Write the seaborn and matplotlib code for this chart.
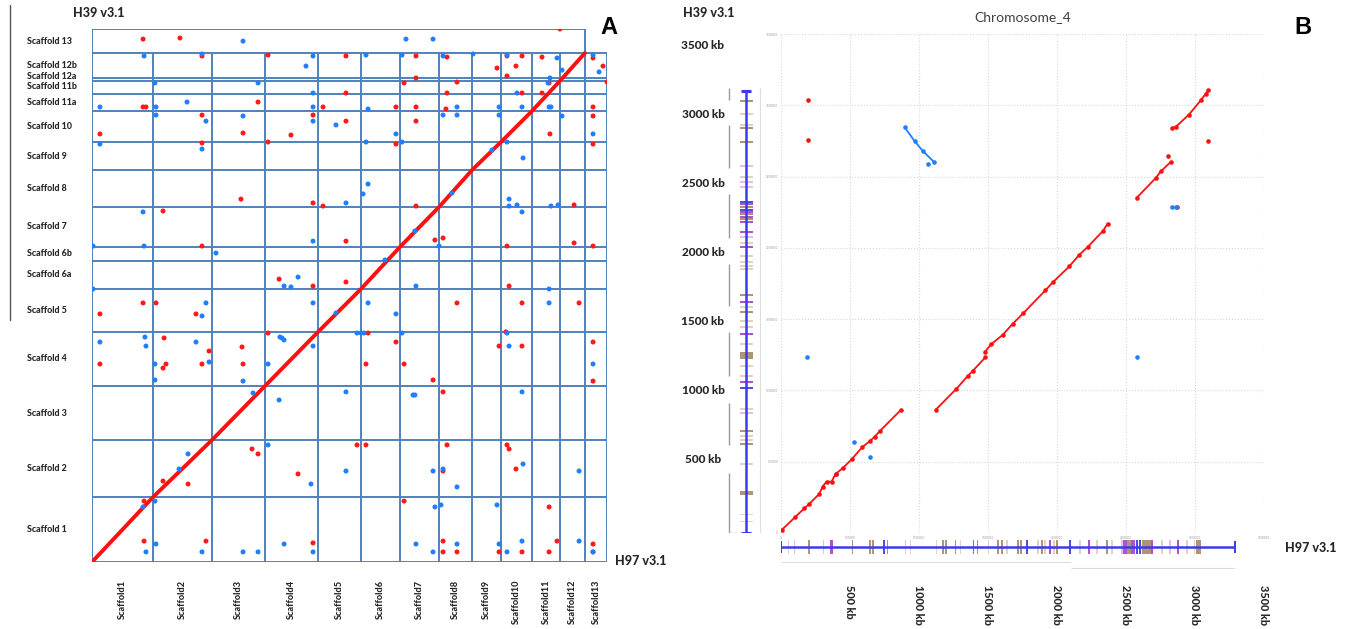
import numpy as np
import pandas as pd
import matplotlib
matplotlib.use('Agg')
import matplotlib.pyplot as plt
import matplotlib.transforms as mtransforms
import seaborn as sns

# PANEL A - whole genome dot plot, H97 v3.1 (x) vs H39 v3.1 (y), positions in Mb
h97_scaffolds = ['Scaffold1', 'Scaffold2', 'Scaffold3', 'Scaffold4', 'Scaffold5', 'Scaffold6', 'Scaffold7',
                 'Scaffold8', 'Scaffold9', 'Scaffold10', 'Scaffold11', 'Scaffold12', 'Scaffold13']
h97_len = [3.54, 3.42, 3.07, 3.08, 2.49, 2.26, 2.27, 1.91, 1.68, 1.80, 1.62, 1.45, 1.28]
h39_scaffolds = ['Scaffold 1', 'Scaffold 2', 'Scaffold 3', 'Scaffold 4', 'Scaffold 5', 'Scaffold 6a', 'Scaffold 6b',
                 'Scaffold 7', 'Scaffold 8', 'Scaffold 9', 'Scaffold 10', 'Scaffold 11a', 'Scaffold 11b',
                 'Scaffold 12a', 'Scaffold 12b', 'Scaffold 13']
h39_len = [3.54, 3.11, 2.94, 2.95, 2.34, 1.53, 0.76, 2.18, 2.01, 1.53, 1.69, 0.93, 0.71, 0.16, 1.36, 1.31]

# main collinear diagonal (scaffold break points)
diag_h97 = [0, 3.54, 6.96, 10.03, 13.11, 15.60, 17.86, 20.13, 22.04, 23.72, 25.52, 27.14, 28.59]
diag_h39 = [0, 3.54, 6.65, 9.59, 12.54, 14.88, 17.17, 19.35, 21.36, 22.89, 24.58, 26.22, 27.74]

# forward hits (red)
red_h97 = [2.96, 5.10, 6.38, 10.21, 2.96, 3.13, 9.63, 13.40, 6.38, 12.82, 0.46, 8.76, 11.54, 6.38, 10.21,
           8.64, 12.82, 13.40, 4.12, 6.38, 10.85, 12.82, 2.96, 3.71, 0.46, 6.03, 27.14, 14.73, 18.79, 20.59,
           24.07, 24.94, 26.10, 29.06, 29.64, 23.49, 24.59, 24.07, 26.51, 18.10, 21.17, 18.79, 29.87, 14.73,
           20.59, 24.94, 26.10, 17.63, 18.79, 20.53, 29.06, 29.06, 14.73, 18.79, 26.56, 17.63, 29.06, 18.79,
           27.96, 14.73, 19.89, 20.36, 27.96, 29.06, 24.07, 14.73, 24.19, 21.17, 24.94, 28.25, 4.18, 0.46,
           6.79, 6.38, 4.29, 4.12, 8.70, 8.76, 10.21, 3.02, 3.02, 6.61, 12.82, 9.28, 9.63, 11.95, 5.57, 4.12,
           16.01, 17.63, 24.01, 23.61, 24.94, 29.06, 15.89, 18.10, 19.78, 29.06, 20.36, 15.37, 15.89, 20.59,
           24.07, 24.19, 24.59, 20.36, 18.10, 26.51, 20.36, 26.97, 29.06, 20.36, 21.17, 23.61, 24.94, 26.51,
           29.06]
red_h39 = [28.50, 28.56, 27.58, 27.63, 24.80, 24.80, 25.07, 24.80, 24.36, 24.36, 23.33, 23.38, 23.27, 22.84,
           22.89, 19.78, 19.57, 19.40, 19.13, 17.22, 15.42, 15.04, 14.12, 14.12, 13.52, 13.52, 29.05, 27.58,
           27.58, 27.52, 27.58, 27.58, 27.52, 27.47, 27.03, 26.92, 27.03, 26.49, 26.11, 26.11, 26.16, 26.38,
           26.16, 25.56, 25.56, 25.56, 25.56, 24.80, 24.80, 24.69, 24.80, 24.31, 24.03, 24.03, 23.33, 22.78,
           22.78, 19.40, 19.46, 17.49, 17.55, 17.66, 17.39, 17.22, 17.22, 15.26, 15.04, 14.12, 14.12, 14.12,
           12.21, 10.79, 11.50, 10.79, 10.79, 10.57, 11.72, 10.79, 12.48, 3.32, 1.14, 1.14, 1.04, 6.16, 5.89,
           4.80, 4.25, 4.41, 12.48, 11.99, 12.54, 11.77, 11.77, 11.99, 10.79, 10.79, 9.92, 9.86, 9.27, 6.38,
           6.38, 6.38, 6.38, 6.16, 5.07, 4.96, 3.32, 3.00, 1.14, 1.14, 0.98, 0.55, 0.55, 0.55, 0.55, 0.55,
           0.55]
# reverse hits (blue)
blue_h97 = [8.76, 3.02, 6.38, 12.82, 12.41, 3.65, 9.63, 12.82, 0.46, 3.71, 5.51, 12.82, 3.71, 6.61, 8.76,
            12.82, 0.46, 6.38, 2.96, 12.82, 3.02, 0.06, 7.19, 11.95, 11.14, 11.54, 0.06, 6.61, 12.82, 6.38,
            18.21, 19.78, 15.89, 17.98, 20.36, 22.10, 24.07, 26.97, 29.06, 29.41, 27.26, 26.56, 26.45, 24.65,
            16.01, 21.17, 23.61, 24.94, 26.51, 26.62, 14.15, 20.36, 21.17, 23.61, 27.26, 17.63, 29.06, 15.89,
            17.98, 24.07, 25.00, 16.01, 15.72, 14.73, 24.19, 24.19, 24.65, 24.94, 26.62, 27.03, 20.13, 26.51,
            16.01, 17.63, 26.51, 18.79, 20.88, 18.73, 16.99, 23.20, 14.15, 3.07, 0.46, 3.13, 6.03, 6.79, 3.65,
            3.65, 8.76, 10.21, 10.90, 11.02, 11.14, 12.82, 10.85, 9.34, 10.21, 5.57, 5.05, 12.70, 3.65, 2.96,
            3.71, 3.13, 6.38, 8.76, 9.63, 11.14, 12.82, 15.37, 15.60, 15.78, 17.98, 24.07, 24.19, 29.06, 14.73,
            18.62, 18.73, 24.94, 14.73, 19.78, 20.36, 21.17, 25.00, 28.25, 23.49, 19.89, 20.24, 18.79, 21.17,
            23.61, 24.94, 28.25, 19.78, 24.07, 29.06]
blue_h39 = [28.39, 27.58, 27.69, 27.58, 27.03, 26.11, 26.11, 25.56, 24.80, 24.80, 25.07, 24.80, 24.36, 24.03,
            24.31, 24.03, 22.78, 22.51, 19.08, 17.49, 17.22, 17.22, 16.84, 15.53, 15.04, 14.99, 14.88, 14.12,
            14.12, 13.41, 28.50, 28.50, 27.63, 27.63, 27.58, 27.69, 27.63, 27.47, 27.63, 26.71, 26.81, 26.38,
            26.11, 25.56, 24.69, 24.80, 24.80, 24.80, 24.80, 24.80, 23.82, 24.36, 24.36, 24.36, 24.31, 23.33,
            23.33, 22.89, 22.89, 22.89, 22.02, 20.60, 20.06, 19.57, 19.78, 19.40, 19.46, 19.08, 19.40, 19.46,
            17.22, 14.88, 14.12, 13.52, 14.12, 15.04, 20.11, 18.04, 16.46, 22.45, 13.57, 12.26, 11.99, 11.77,
            11.99, 10.90, 10.79, 9.92, 9.86, 10.79, 12.26, 12.21, 12.10, 11.77, 8.83, 9.21, 6.38, 5.89, 5.07,
            4.25, 3.32, 3.00, 0.98, 0.55, 0.55, 0.55, 0.55, 0.98, 0.55, 12.48, 12.48, 12.48, 12.48, 12.48,
            11.77, 10.79, 9.27, 9.10, 9.10, 9.27, 4.96, 4.96, 5.07, 4.09, 5.34, 4.96, 3.11, 3.00, 3.11, 0.98,
            0.98, 0.98, 1.14, 1.14, 0.55, 0.55, 0.55]

# PANEL B - Chromosome_4, positions in kb
b_ticks = [0, 500, 1000, 1500, 2000, 2500, 3000, 3500]
fwd_blocks = [
    ([7, 103, 171, 207, 279, 303, 332, 368, 397, 448, 513, 590, 645, 681, 717, 871],
     [21, 110, 173, 204, 274, 325, 360, 360, 414, 454, 516, 602, 644, 676, 714, 864]),
    ([1122, 1272, 1356, 1392, 1481], [864, 1011, 1103, 1138, 1231]),
    ([1481, 1525, 1608, 1681, 1758, 1917, 1970, 2090, 2163, 2223, 2336, 2367],
     [1273, 1325, 1390, 1468, 1543, 1702, 1758, 1870, 1952, 2006, 2121, 2170]),
    ([2577, 2717, 2753, 2825], [2350, 2491, 2537, 2603]),
    ([2837, 2861, 2957, 3042, 3078, 3097], [2842, 2849, 2935, 3035, 3081, 3104]),
]
fwd_single_x = [195, 195, 2808, 3097, 2868]
fwd_single_y = [3039, 2755, 2645, 2751, 2284]
rev_block_x = [898, 970, 1030, 1110]
rev_block_y = [2846, 2748, 2678, 2603]
rev_single_x = [1066, 192, 530, 645, 397, 2577, 2837, 2861]
rev_single_y = [2589, 1234, 641, 532, 412, 1231, 2284, 2284]

# annotation tracks (start kb, length kb, feature type)
h39_track_len = 3097
h39_feat_start = [3020, 2935, 2858, 2833, 2735, 2570, 2493, 2458, 2423, 2318, 2300, 2280, 2262, 2245, 2228,
                  2210, 2192, 2177, 2107, 2072, 2029, 2001, 1938, 1896, 1868, 1847, 1664, 1615, 1580, 1545,
                  1482, 1440, 1390, 1320, 1222, 1166, 1096, 1053, 1011, 864, 836, 709, 674, 646, 618, 478,
                  267, 126, 77]
h39_feat_len = [16, 10, 10, 14, 16, 12, 10, 12, 12, 14, 14, 16, 14, 16, 14, 14, 14, 12, 12, 10, 10, 12, 10,
                10, 10, 10, 12, 12, 10, 12, 10, 10, 12, 10, 50, 10, 10, 12, 12, 10, 10, 12, 10, 10, 12, 10,
                28, 10, 10]
h39_feat_type = ['brown', 'light', 'light', 'brown', 'brown', 'pink', 'light', 'pink', 'pink', 'blue', 'purple',
                 'brown', 'blue', 'purple', 'brown', 'purple', 'brown', 'purple', 'purple', 'pink', 'light',
                 'purple', 'light', 'light', 'light', 'light', 'brown', 'purple', 'light', 'brown', 'light',
                 'light', 'purple', 'light', 'brown', 'light', 'light', 'purple', 'blue', 'light', 'pink',
                 'brown', 'light', 'light', 'brown', 'light', 'brown', 'light', 'light']
h97_track_len = 3289
h97_feat_start = [53, 96, 197, 305, 358, 515, 640, 660, 739, 768, 898, 934, 1122, 1168, 1190, 1259, 1295, 1389,
                  1418, 1498, 1565, 1595, 1635, 1712, 1733, 1780, 1859, 1888, 1910, 1946, 1975, 1997, 2091,
                  2163, 2228, 2286, 2358, 2394, 2466, 2480, 2510, 2540, 2575, 2596, 2615, 2640, 2685, 2755,
                  2813, 2871, 2936, 2993, 3005]
h97_feat_len = [10, 10, 12, 10, 18, 12, 14, 14, 14, 10, 12, 10, 10, 14, 12, 10, 10, 12, 10, 10, 14, 12, 10,
                12, 12, 14, 10, 10, 10, 14, 10, 10, 14, 10, 14, 10, 10, 10, 12, 30, 30, 25, 15, 14, 25, 40,
                14, 10, 10, 14, 10, 10, 40]
h97_feat_type = ['light', 'pink', 'brown', 'pink', 'purple', 'brown', 'brown', 'brown', 'blue', 'brown', 'pink',
                 'light', 'light', 'brown', 'brown', 'brown', 'light', 'purple', 'brown', 'light', 'brown',
                 'brown', 'light', 'brown', 'brown', 'blue', 'light', 'brown', 'light', 'purple', 'light',
                 'brown', 'blue', 'light', 'purple', 'light', 'brown', 'light', 'pink', 'purple', 'brown',
                 'purple', 'blue', 'blue', 'brown', 'brown', 'purple', 'light', 'pink', 'purple', 'light',
                 'light', 'brown']
h39_contig_start = [3040, 2560, 2070, 1590, 1100, 620, 0]
h39_contig_end = [3120, 2860, 2380, 1890, 1410, 910, 420]

feat_colors = {'brown': '#a2825e', 'purple': '#a632cc', 'pink': '#e6b2e6', 'blue': '#3030d8', 'light': '#dccab8'}
grid_blue = '#4f81bd'
label_color = '#262626'

sns.set_theme(style='white')
plt.rcParams['font.family'] = ['Lato', 'DejaVu Sans']

W, H = 1346, 629
fig = plt.figure(figsize=(W / 100, H / 100), dpi=100)


def box(x0, y0, x1, y1):
    # pixel box (top-left origin) -> figure fraction rect
    return [x0 / W, 1 - y1 / H, (x1 - x0) / W, (y1 - y0) / H]


def fx(px):
    return px / W


def fy(py):
    return 1 - py / H


# ---------------- PANEL A ----------------
axA = fig.add_axes(box(92, 29, 607, 562))
h97_edges = np.concatenate([[0], np.cumsum(h97_len)])
h39_edges = np.concatenate([[0], np.cumsum(h39_len)])
axA.set_xlim(0, h97_edges[-1])
axA.set_ylim(0, h39_edges[-1])
axA.set_axis_off()

for i, e in enumerate(h97_edges):
    top = h39_edges[-1] if i in (0, len(h97_edges) - 2) else h39_edges[-2]
    axA.vlines(e, 0, top, color=grid_blue, lw=1.4, zorder=1)
for i, e in enumerate(h39_edges):
    right = h97_edges[-2] if i == len(h39_edges) - 1 else h97_edges[-1]
    axA.hlines(e, 0, right, color=grid_blue, lw=1.4, zorder=1)

sns.lineplot(x=diag_h97, y=diag_h39, sort=False, estimator=None, color='#ff1010', lw=2.8, ax=axA, zorder=2)

dots = pd.concat([
    pd.DataFrame({'h97': red_h97, 'h39': red_h39, 'strand': '+'}),
    pd.DataFrame({'h97': blue_h97, 'h39': blue_h39, 'strand': '-'}),
], ignore_index=True)
sns.scatterplot(data=dots, x='h97', y='h39', hue='strand', palette={'+': '#ff1a1a', '-': '#1f7fff'},
                s=13, linewidth=0, legend=False, ax=axA, zorder=3)

# scaffold names
tr_y = mtransforms.blended_transform_factory(fig.transFigure, axA.transData)
h39_centers = (h39_edges[:-1] + h39_edges[1:]) / 2
nudge = {'Scaffold 12a': 2, 'Scaffold 11b': 1}
for name, c in zip(h39_scaffolds, h39_centers):
    axA.annotate(name, xy=(fx(27), c), xycoords=tr_y, xytext=(0, nudge.get(name, 0)), textcoords='offset points',
                 ha='left', va='center', fontsize=6.4, fontweight='black', color=label_color)
tr_x = mtransforms.blended_transform_factory(axA.transData, fig.transFigure)
h97_centers = (h97_edges[:-1] + h97_edges[1:]) / 2
for name, c in zip(h97_scaffolds, h97_centers):
    axA.text(c, fy(580), name, transform=tr_x, rotation=90, ha='center', va='top',
             fontsize=6.6, fontweight='black', color=label_color)

fig.text(fx(73), fy(13), 'H39 v3.1', ha='left', va='center', fontsize=9, fontweight='black', color=label_color)
fig.text(fx(615), fy(561), 'H97 v3.1', ha='left', va='center', fontsize=9, fontweight='black', color=label_color)
fig.text(fx(609), fy(28), 'A', ha='center', va='center', fontsize=17, fontweight='bold',
         family='Liberation Sans', color='black')
fig.add_artist(plt.Line2D([fx(10), fx(10)], [fy(5), fy(320)], color='#555555', lw=1.0))

# ---------------- PANEL B ----------------
axB = fig.add_axes(box(780.7, 34, 1264, 533))
axB.set_xlim(0, 3500)
axB.set_ylim(0, 3500)
axB.set_xticks(b_ticks)
axB.set_yticks(b_ticks)
axB.set_xticklabels([str(t * 1000) for t in b_ticks])
axB.set_yticklabels([str(t * 1000) for t in b_ticks])
axB.tick_params(labelsize=2.2, colors='#999999', length=0, pad=2)
axB.grid(True, color='#d8d8d8', ls=':', lw=0.8)
for s in axB.spines.values():
    s.set_visible(False)
axB.set_xlabel('')
axB.set_ylabel('')

for bx, by in fwd_blocks:
    sns.lineplot(x=bx, y=by, sort=False, estimator=None, color='#ff1010', lw=1.3, marker='o',
                 markersize=3.3, markeredgewidth=0, ax=axB)
sns.lineplot(x=rev_block_x, y=rev_block_y, sort=False, estimator=None, color='#1f7fff', lw=1.3, marker='o',
             markersize=3.3, markeredgewidth=0, ax=axB)
sns.scatterplot(x=fwd_single_x, y=fwd_single_y, color='#ff1010', s=11, linewidth=0, ax=axB)
sns.scatterplot(x=rev_single_x, y=rev_single_y, color='#1f7fff', s=11, linewidth=0, ax=axB)
axB.set_title('Chromosome_4', fontsize=10, color='#404040', pad=9)

# H39 annotation track (left, vertical)
axL = fig.add_axes(box(720, 34, 762, 533))
axL.set_xlim(0, 42)
axL.set_ylim(0, 3500)
axL.set_axis_off()
axL.barh(h39_feat_start, 13, height=h39_feat_len, left=20, align='edge',
         color=[feat_colors[t] for t in h39_feat_type], alpha=0.85, linewidth=0)
axL.vlines(26, 0, h39_track_len, color='#3a3af0', lw=1.8)
axL.hlines([0, h39_track_len], 21, 31, color='#3a3af0', lw=2.2)
axL.vlines([9] * len(h39_contig_start), h39_contig_start, h39_contig_end, color='#9a9a9a', lw=1.0)
axL.vlines(40, 0, 3120, color='#dddddd', lw=0.8)
axL.hlines(0, 8, 20, color='#90e090', lw=1.0)

# H97 annotation track (bottom, horizontal)
axT = fig.add_axes(box(780.7, 535, 1264, 572))
axT.set_xlim(0, 3500)
axT.set_ylim(37, 0)
axT.set_axis_off()
axT.bar(h97_feat_start, 14, width=h97_feat_len, bottom=5, align='edge',
        color=[feat_colors[t] for t in h97_feat_type], alpha=0.85, linewidth=0)
axT.hlines(12, 0, h97_track_len, color='#3a3af0', lw=1.8)
axT.vlines([0, h97_track_len], 6, 18, color='#3a3af0', lw=1.4)
axT.hlines(27, 0, 2105, color='#dddddd', lw=0.8)
axT.hlines(33, 2105, h97_track_len, color='#dddddd', lw=0.8)

# outer kb labels
axLab = fig.add_axes(box(660, 34, 740, 533))
axLab.set_xlim(0, 1)
axLab.set_ylim(-28, 3580)
axLab.set_axis_off()
for t in b_ticks[1:]:
    axLab.text(43 / 80, t, f'{t} kb', ha='center', va='center', fontsize=8.5,
               fontweight='black', color=label_color)
tr_bx = mtransforms.blended_transform_factory(axB.transData, fig.transFigure)
for t in b_ticks[1:]:
    axB.text(t, fy(585), f'{t} kb', transform=tr_bx, rotation=-90, ha='center', va='top',
             fontsize=7.8, fontweight='black', color=label_color)

fig.text(fx(683), fy(13), 'H39 v3.1', ha='left', va='center', fontsize=9, fontweight='black', color=label_color)
fig.text(fx(1285), fy(548), 'H97 v3.1', ha='left', va='center', fontsize=9, fontweight='black', color=label_color)
fig.text(fx(1303), fy(27), 'B', ha='center', va='center', fontsize=17, fontweight='bold',
         family='Liberation Sans', color='black')

fig.savefig('out.png', dpi=100)
